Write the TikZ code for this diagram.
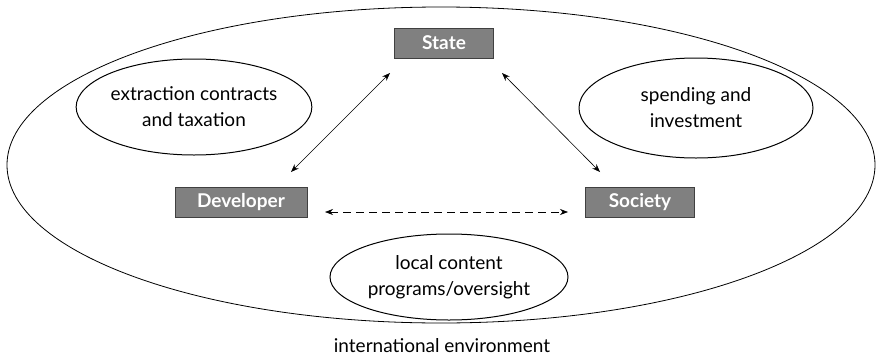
\documentclass[tikz,border=0pt]{standalone}
\usepackage{fontspec}
\setmainfont{Lato}
\usetikzlibrary{arrows.meta,shapes.geometric}
\begin{document}
\begin{tikzpicture}[x=1pt,y=-1pt,
  box/.style={draw=black!75,fill=black!50,text=white,font=\bfseries\fontsize{19}{21}\selectfont,inner sep=0pt,line width=0.8pt},
  oval/.style={draw,ellipse,inner sep=0pt,align=center,font=\fontsize{19}{26}\selectfont,line width=1pt},
  link/.style={{Stealth[length=8pt,width=6pt]}-{Stealth[length=8pt,width=6pt]},line width=0.6pt}]
\useasboundingbox (0,0) rectangle (878,359);
\node[draw,ellipse,minimum width=868,minimum height=316,line width=0.8pt] (env) at (441,165) {};
\node[box,minimum width=99,minimum height=30] (state) at (444,43) {State};
\node[box,minimum width=132,minimum height=30] (dev) at (241,202) {Developer};
\node[box,minimum width=109,minimum height=30] (soc) at (640,202) {Society};
\node[oval,minimum width=234,minimum height=96] (e1) at (194,107) {extraction contracts\\and taxation};
\node[oval,minimum width=234,minimum height=100] (e2) at (696,108) {spending and\\investment};
\node[oval,minimum width=238,minimum height=86] (e3) at (449,277) {local content\\programs/oversight};
\coordinate (a1) at (390,73); \coordinate (a2) at (291,172);
\coordinate (b1) at (502,73); \coordinate (b2) at (600,172);
\coordinate (c1) at (325,212); \coordinate (c2) at (568,212);
\draw[link] (a1) -- (a2);
\draw[link] (b1) -- (b2);
\draw[link,dashed,dash pattern=on 8pt off 5pt] (c1) -- (c2);
\node[font=\fontsize{19}{21}\selectfont] (lab) at (442,346) {international environment};
\end{tikzpicture}
\end{document}
